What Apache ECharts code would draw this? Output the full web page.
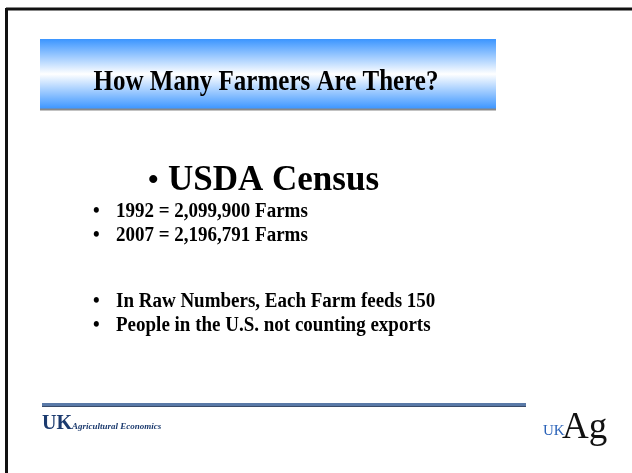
<!DOCTYPE html>
<html>
<head>
<meta charset="utf-8">
<script src="https://cdn.jsdelivr.net/npm/echarts@6/dist/echarts.min.js"></script>
<style>
html, body { margin: 0; padding: 0; background: #fff; }
#chart { width: 632px; height: 473px; }
</style>
</head>
<body>
<div id="chart"></div>
<script>
// slide texts
var slideTitle = 'How Many Farmers Are There?'
var heading = 'USDA Census'
var censusLines = ['1992 = 2,099,900 Farms', '2007 = 2,196,791 Farms']
var noteLines = ['In Raw Numbers, Each Farm feeds 150', 'People in the U.S. not counting exports']
var footerLeft = ['UK', 'Agricultural Economics']
var footerRight = ['UK', 'Ag']

var serif = '"Liberation Serif", "DejaVu Serif", serif'

// the slide is a bit stretched vertically
function bullet(text, y) {
    return [
        { type: 'text', x: 93, y: y, scaleY: 1.12, style: { text: '\u2022', font: 'bold 19px ' + serif, fill: '#000', verticalAlign: 'middle' } },
        { type: 'text', x: 116, y: y, scaleY: 1.12, style: { text: text, font: 'bold 19px ' + serif, fill: '#000', verticalAlign: 'middle' } }
    ]
}

var elements = [
    // frame
    { type: 'line', shape: { x1: 6, y1: 9, x2: 632, y2: 9 }, style: { stroke: '#111', lineWidth: 3 } },
    { type: 'line', shape: { x1: 6.5, y1: 8, x2: 6.5, y2: 473 }, style: { stroke: '#111', lineWidth: 3 } },
    // title band
    {
        type: 'rect', shape: { x: 40, y: 39, width: 456, height: 70 },
        style: {
            fill: new echarts.graphic.LinearGradient(0, 0, 0, 1, [
                { offset: 0, color: '#3b95ff' },
                { offset: 0.5, color: '#ffffff' },
                { offset: 1, color: '#3b95ff' }
            ])
        }
    },
    { type: 'line', shape: { x1: 40, y1: 109.5, x2: 496, y2: 109.5 }, style: { stroke: '#888', lineWidth: 2 } },
    {
        type: 'text', x: 266, y: 82, scaleY: 1.2,
        style: { text: slideTitle, font: 'bold 25px ' + serif, fill: '#000', align: 'center', verticalAlign: 'middle' }
    },
    // heading
    { type: 'text', x: 148, y: 181, style: { text: '\u2022', font: 'bold 30px ' + serif, fill: '#000', verticalAlign: 'middle' } },
    { type: 'text', x: 168, y: 181, style: { text: heading, font: 'bold 35px ' + serif, fill: '#000', verticalAlign: 'middle' } }
]
censusLines.forEach(function (t, i) { elements = elements.concat(bullet(t, 212 + i * 24)) })
noteLines.forEach(function (t, i) { elements = elements.concat(bullet(t, 302 + i * 24)) })

// footer
elements.push(
    { type: 'line', shape: { x1: 42, y1: 404.5, x2: 526, y2: 404.5 }, style: { stroke: '#5a7aa8', lineWidth: 3 } },
    { type: 'line', shape: { x1: 42, y1: 406.5, x2: 526, y2: 406.5 }, style: { stroke: '#3a4c6a', lineWidth: 1 } },
    { type: 'text', x: 42, y: 424, style: { text: footerLeft[0], font: 'bold 20px ' + serif, fill: '#1b3a6e', verticalAlign: 'middle' } },
    { type: 'text', x: 72, y: 427, style: { text: footerLeft[1], font: 'italic bold 9px ' + serif, fill: '#1b3a6e', verticalAlign: 'middle' } },
    { type: 'text', x: 543, y: 431, style: { text: footerRight[0], font: '15px ' + serif, fill: '#2a62b8', verticalAlign: 'middle' } },
    { type: 'text', x: 562, y: 428, style: { text: footerRight[1], font: '37px ' + serif, fill: '#111', verticalAlign: 'middle' } }
)

var chart = echarts.init(document.querySelector('#chart'))
chart.setOption({
    backgroundColor: '#fff',
    animation: false,
    graphic: { elements: elements }
})
</script>
</body>
</html>
